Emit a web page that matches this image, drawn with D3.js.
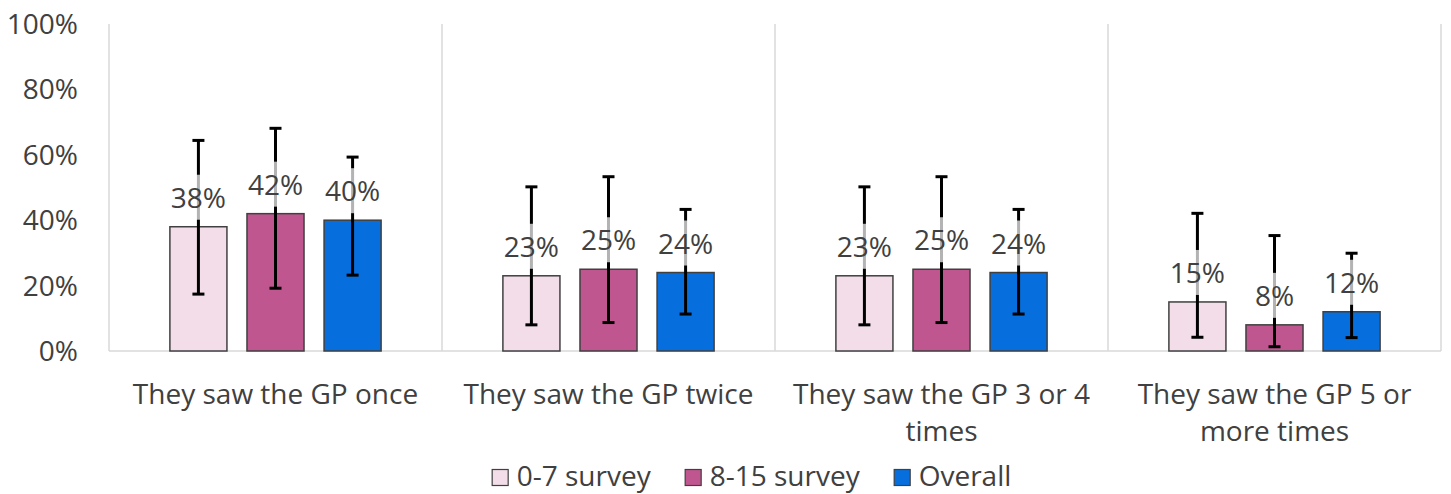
<!DOCTYPE html>
<html lang="en">
<head>
    <meta charset="UTF-8">
    <title>GP visits</title>
    <script src="https://d3js.org/d3.v7.min.js"></script>
    <style>
        body { margin: 0; background: #fff; }
        text { font-family: "Open Sans", sans-serif; fill: #404040; }
    </style>
</head>
<body>
    <div id="chart"></div>
    <script>

        const categories = [
            "They saw the GP once",
            "They saw the GP twice",
            "They saw the GP 3 or 4 times",
            "They saw the GP 5 or more times"
        ];
        const seriesNames = ["0-7 survey", "8-15 survey", "Overall"];
        const seriesColors = ["#f2dde9", "#c0568f", "#066fdd"];

        // percentages and error bar ends (low / high)
        const survey07 = [38, 23, 23, 15];
        const survey07Low = [17.4, 8.0, 8.0, 4.2];
        const survey07High = [64.4, 50.2, 50.2, 42.1];

        const survey815 = [42, 25, 25, 8];
        const survey815Low = [19.2, 8.7, 8.7, 1.3];
        const survey815High = [68.1, 53.3, 53.3, 35.3];

        const overall = [40, 24, 24, 12];
        const overallLow = [23.2, 11.3, 11.3, 4.1];
        const overallHigh = [59.3, 43.3, 43.3, 29.9];

        const yTicks = [0, 20, 40, 60, 80, 100];

        const values = [survey07, survey815, overall];
        const lows = [survey07Low, survey815Low, overallLow];
        const highs = [survey07High, survey815High, overallHigh];

        const width = 1451;
        const height = 494;
        const plotLeft = 109, plotRight = 1441, plotTop = 24, plotBottom = 351;

        const svg = d3.select("#chart")
            .append("svg")
            .attr("width", width)
            .attr("height", height);

        const x0 = d3.scaleBand()
            .domain(categories)
            .range([plotLeft, plotRight]);

        const x1 = d3.scaleBand()
            .domain(seriesNames)
            .range([0, x0.bandwidth()])
            .paddingInner(0.26)
            .paddingOuter(0.79);

        const y = d3.scaleLinear()
            .domain([0, 100])
            .range([plotBottom, plotTop]);

        // vertical separators between categories
        const bounds = categories.map(c => x0(c)).concat([plotRight]);
        svg.selectAll(".sep")
            .data(bounds)
            .join("line")
            .attr("x1", d => d).attr("x2", d => d)
            .attr("y1", plotTop).attr("y2", plotBottom)
            .attr("stroke", "#d9d9d9")
            .attr("stroke-width", 1.5);

        // baseline
        svg.append("line")
            .attr("x1", plotLeft).attr("x2", plotRight)
            .attr("y1", plotBottom).attr("y2", plotBottom)
            .attr("stroke", "#d9d9d9")
            .attr("stroke-width", 1.5);

        // y tick labels
        svg.selectAll(".ytick")
            .data(yTicks)
            .join("text")
            .attr("x", 78)
            .attr("y", d => y(d) + 10)
            .attr("text-anchor", "end")
            .style("font-size", "28px")
            .text(d => d + "%");

        const bars = [];
        categories.forEach((c, ci) => {
            seriesNames.forEach((s, si) => {
                bars.push({
                    cat: c, series: s, si: si,
                    value: values[si][ci],
                    low: lows[si][ci],
                    high: highs[si][ci]
                });
            });
        });

        const cx = d => x0(d.cat) + x1(d.series) + x1.bandwidth() / 2;

        svg.selectAll(".bar")
            .data(bars)
            .join("rect")
            .attr("x", d => x0(d.cat) + x1(d.series))
            .attr("y", d => y(d.value))
            .attr("width", x1.bandwidth())
            .attr("height", d => y(0) - y(d.value))
            .attr("fill", d => seriesColors[d.si])
            .attr("stroke", "#404040")
            .attr("stroke-width", 1.5);

        // error bars
        const err = svg.selectAll(".err")
            .data(bars)
            .join("g");
        err.append("line")
            .attr("x1", cx).attr("x2", cx)
            .attr("y1", d => y(d.low)).attr("y2", d => y(d.high))
            .attr("stroke", "#000").attr("stroke-width", 3);
        err.append("line")
            .attr("x1", d => cx(d) - 6).attr("x2", d => cx(d) + 6)
            .attr("y1", d => y(d.low)).attr("y2", d => y(d.low))
            .attr("stroke", "#000").attr("stroke-width", 3);
        err.append("line")
            .attr("x1", d => cx(d) - 6).attr("x2", d => cx(d) + 6)
            .attr("y1", d => y(d.high)).attr("y2", d => y(d.high))
            .attr("stroke", "#000").attr("stroke-width", 3);

        // data labels with half see-through white box
        const lab = svg.selectAll(".lab")
            .data(bars)
            .join("g");
        lab.append("rect")
            .attr("x", d => cx(d) - 34)
            .attr("y", d => y(d.value) - 52)
            .attr("width", 68)
            .attr("height", 45)
            .attr("fill", "#fff")
            .attr("opacity", 0.7);
        lab.append("text")
            .attr("x", cx)
            .attr("y", d => y(d.value) - 19)
            .attr("text-anchor", "middle")
            .style("font-size", "28px")
            .text(d => d.value + "%");

        // category labels, wrapped
        categories.forEach(c => {
            const t = svg.append("text")
                .attr("x", x0(c) + x0.bandwidth() / 2)
                .attr("y", 404)
                .attr("text-anchor", "middle")
                .style("font-size", "28px");
            const words = c.split(" ");
            let line = [];
            let tspan = t.append("tspan").attr("x", x0(c) + x0.bandwidth() / 2);
            words.forEach(w => {
                line.push(w);
                tspan.text(line.join(" "));
                if (tspan.node().getComputedTextLength() > 315 && line.length > 1) {
                    line.pop();
                    tspan.text(line.join(" "));
                    line = [w];
                    tspan = t.append("tspan")
                        .attr("x", x0(c) + x0.bandwidth() / 2)
                        .attr("dy", 37)
                        .text(w);
                }
            });
        });

        // legend
        const legend = svg.append("g");
        let lx = 0;
        seriesNames.forEach((s, i) => {
            const g = legend.append("g").attr("transform", `translate(${lx},0)`);
            g.append("rect")
                .attr("x", 0.5).attr("y", 469.5)
                .attr("width", 16).attr("height", 16)
                .attr("fill", seriesColors[i])
                .attr("stroke", "#404040")
                .attr("stroke-width", 1.2);
            const t = g.append("text")
                .attr("x", 25).attr("y", 486)
                .style("font-size", "28px")
                .text(s);
            lx += 25 + t.node().getComputedTextLength() + 34;
        });
        const legendW = lx - 34;
        legend.attr("transform", `translate(${751.5 - legendW / 2},0)`);

    </script>
</body>
</html>
